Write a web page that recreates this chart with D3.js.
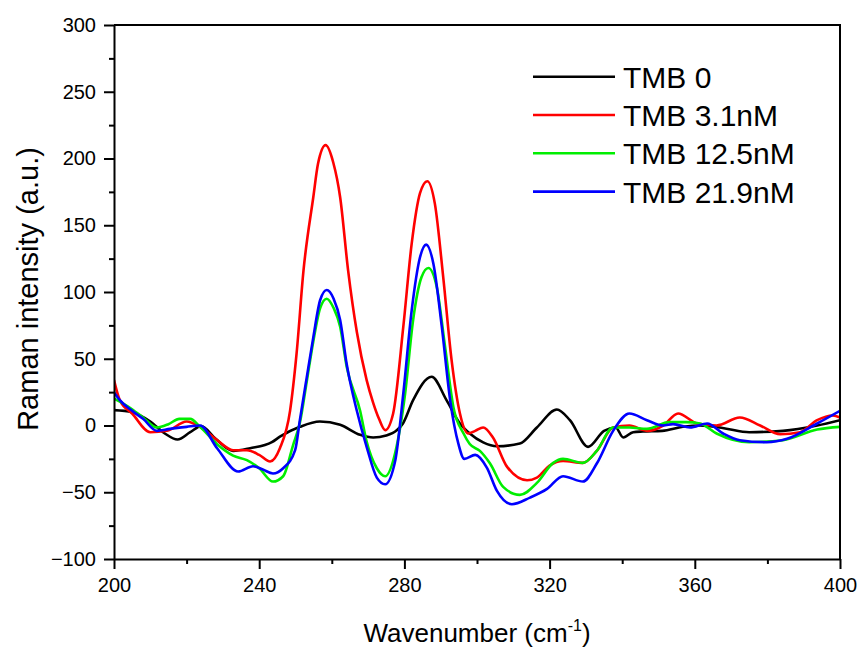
<!DOCTYPE html>
<html>
  <head>
    <meta charset="utf-8">
    <title>Raman spectra</title>
    <style media="screen">
      body {margin:0; background:#fff}
      svg {font-family: Arial, 'Liberation Sans', sans-serif}
      .axis path, .axis line {stroke:#000; stroke-width:2}
      .axis text {font-size:20px; fill:#000}
      .series {fill:none; stroke-width:2.6}
    </style>
  </head>
  <body>
    <script src="https://cdn.jsdelivr.net/npm/d3@7/dist/d3.min.js"></script>
    <script type="text/javascript">

    // wavenumber / intensity pairs
    const tmb0X = [200,205,210,214,217.5,221,224,228,232.8,237.5,243.5,245.7,251.2,256.7,262.3,267.8,271.4,275,277.9,279.6,282.4,287.5,291.6,295.3,298,301.7,305.5,311.8,316.5,322,325.6,330.6,335,338.2,340.3,343,345.7,351,356.7,361.4,368,375,384.3,393.7,400]
    const tmb0Y = [11.5,10,3,-6,-10.5,-5,-0.5,-10,-19,-17,-12.5,-8.4,-1,3,0.5,-7,-9,-7.5,-3.6,1.5,19,36.5,19,1.5,-6,-12.6,-15.5,-13.5,-1.5,12,4,-16,-4,-1.5,-9,-5,-4.5,-4,-1,0,-2,-5,-4,0,4]

    const tmb31X = [200,201.6,205,210,214.6,220,223.7,228.4,232.8,236.6,240,243,245.7,248.5,250.3,252.2,254.9,256.2,258.3,260.4,262.3,264.5,266.9,269.6,271.4,273,274.7,276.9,279.7,282,284.3,286.3,288.4,290.7,293,295.3,297.6,299.5,301.7,304.4,308.3,313.8,316.5,320,323.7,329.2,333,337.5,342,346.8,351.3,355.4,360.6,366,372.4,378,383.5,389,393.7,398,400]
    const tmb31Y = [34,19,9,-5,-4,3,-1,-11,-18.5,-18.5,-22,-27,-17,11,54,116,171,196,210,197,171,116,70,34,17,5,-3.5,9,74,136,174,183,166,111,49,9,-6,-4,-1.5,-9,-31,-41,-39,-30,-26.5,-28,-19,-1.5,0,-4,0,9,1.5,0,6,0,-6.5,-5,4,7.5,6]

    const tmb125X = [200,200.8,204,208,211.8,215,218,221,223.7,228.4,232.8,236.6,240,243.8,246.6,249.3,251.2,253.1,254.9,256.8,258.6,260.5,262.3,264.1,267.8,269.6,272.4,274.7,277.5,280.2,282.4,284.7,286.6,288.9,291.2,293.5,296.3,298,300.8,303.6,307.2,311.8,316.5,321,323.7,329.2,333,337.5,342,346.8,353,357.6,361.4,366,375,384.3,393.7,400]
    const tmb125Y = [20,19,14,6,-1.5,1,5,5,-1,-14,-22.5,-26,-32,-42,-38,-15,2,33,63,88,95,88,74,44,11,-12,-32,-38,-20,24,79,111,118,104,59,13.6,-6,-13.9,-19,-28.5,-46,-52,-43,-28,-25,-28,-19,-1.5,-1.5,-2.5,2.5,2.5,1.5,-6,-12.5,-11,-3,-1]

    const tmb219X = [200,201.6,205,208,211.8,215.4,220,223.7,228.4,234.2,238.3,241,243.8,246.6,249.9,251.2,253.1,254.9,256.8,258.6,260.5,262.3,264.1,266.9,269.6,272.4,274.7,277.5,279.7,282,284.3,286,288,290.3,292.6,294.9,296.5,299.5,302.7,305.5,309.6,314.6,319.3,323.7,329.2,333,337.5,342,346.8,351.3,354,358.7,363.4,367.8,372.4,379.8,385.4,393.7,400]
    const tmb219Y = [25,19,11,5,-4,-2.5,-1,0,-17,-34.5,-30.5,-33,-36,-32,-18.5,4,36,66,94,101.5,95,79,46,11,-16,-39,-44,-26,24,86,126,135.5,121,74,19,-14,-25,-22,-31.5,-49,-59,-54,-47.5,-38,-42,-28.5,-4,9,4,0,1,-1.5,1.5,-6,-11,-12.5,-10,1.5,11]

    const seriesNames = ['TMB 0', 'TMB 3.1nM', 'TMB 12.5nM', 'TMB 21.9nM']
    const seriesColors = ['#000000', '#ff0000', '#00ee00', '#0000ff']
    const xTicks = [200, 240, 280, 320, 360, 400]
    const yTicks = [-100, -50, 0, 50, 100, 150, 200, 250, 300]

    const series = [
      [tmb0X, tmb0Y], [tmb31X, tmb31Y], [tmb125X, tmb125Y], [tmb219X, tmb219Y]
    ].map(([xs, ys], i) => ({
      name: seriesNames[i],
      color: seriesColors[i],
      values: xs.map((x, j) => [x, ys[j]])
    }))

    const w = 861, h = 648
    const mLeft = 114, mRight = 840, mTop = 25, mBottom = 559

    const svg = d3.select('body').append('svg')
      .attr('width', w)
      .attr('height', h)

    const x = d3.scaleLinear().domain([200, 400]).range([mLeft, mRight])
    const y = d3.scaleLinear().domain([-100, 300]).range([mBottom, mTop])

    svg.append('clipPath').attr('id', 'plot')
      .append('rect')
      .attr('x', mLeft).attr('y', mTop)
      .attr('width', mRight - mLeft).attr('height', mBottom - mTop)

    const line = d3.line()
      .x(d => x(d[0]))
      .y(d => y(d[1]))
      .curve(d3.curveMonotoneX)

    svg.append('g')
      .attr('clip-path', 'url(#plot)')
      .selectAll('path')
      .data(series)
      .join('path')
      .attr('class', 'series')
      .attr('stroke', d => d.color)
      .attr('d', d => line(d.values))

    // minor ticks first, then major axes on top
    svg.append('g')
      .attr('class', 'axis')
      .attr('transform', `translate(0,${mBottom})`)
      .call(d3.axisBottom(x).tickValues(d3.range(220, 400, 40)).tickSize(5).tickFormat(''))
      .call(g => g.select('.domain').remove())

    svg.append('g')
      .attr('class', 'axis')
      .attr('transform', `translate(${mLeft},0)`)
      .call(d3.axisLeft(y).tickValues(d3.range(-75, 300, 50)).tickSize(5).tickFormat(''))
      .call(g => g.select('.domain').remove())

    svg.append('g')
      .attr('class', 'axis')
      .attr('transform', `translate(0,${mBottom})`)
      .call(d3.axisBottom(x).tickValues(xTicks).tickSize(10).tickSizeOuter(0).tickPadding(9))

    svg.append('g')
      .attr('class', 'axis')
      .attr('transform', `translate(${mLeft},0)`)
      .call(d3.axisLeft(y).tickValues(yTicks).tickSize(10).tickSizeOuter(0).tickPadding(8))

    // frame top and right
    svg.append('path')
      .attr('d', `M${mLeft},${mTop}H${mRight}V${mBottom}`)
      .attr('fill', 'none')
      .attr('stroke', '#000')
      .attr('stroke-width', 2)

    // axis titles
    const xt = svg.append('text')
      .attr('x', (mLeft + mRight) / 2)
      .attr('y', 642)
      .attr('text-anchor', 'middle')
      .attr('font-size', 26)
    xt.append('tspan').text('Wavenumber (cm')
    xt.append('tspan').attr('font-size', 16).attr('dy', -11).text('-1')
    xt.append('tspan').attr('dy', 11).text(')')

    svg.append('text')
      .attr('transform', `translate(38,${(mTop + mBottom) / 2 - 3}) rotate(-90)`)
      .attr('text-anchor', 'middle')
      .attr('font-size', 29)
      .text('Raman intensity (a.u.)')

    // legend
    const legend = svg.append('g')
      .selectAll('g')
      .data(series)
      .join('g')
      .attr('transform', (d, i) => `translate(533,${76.7 + i * 38.3})`)

    legend.append('line')
      .attr('x1', 0).attr('x2', 82)
      .attr('stroke', d => d.color)
      .attr('stroke-width', 2.6)

    legend.append('text')
      .attr('x', 90)
      .attr('y', 11)
      .attr('font-size', 30)
      .text(d => d.name)
    </script>
  </body>
</html>
